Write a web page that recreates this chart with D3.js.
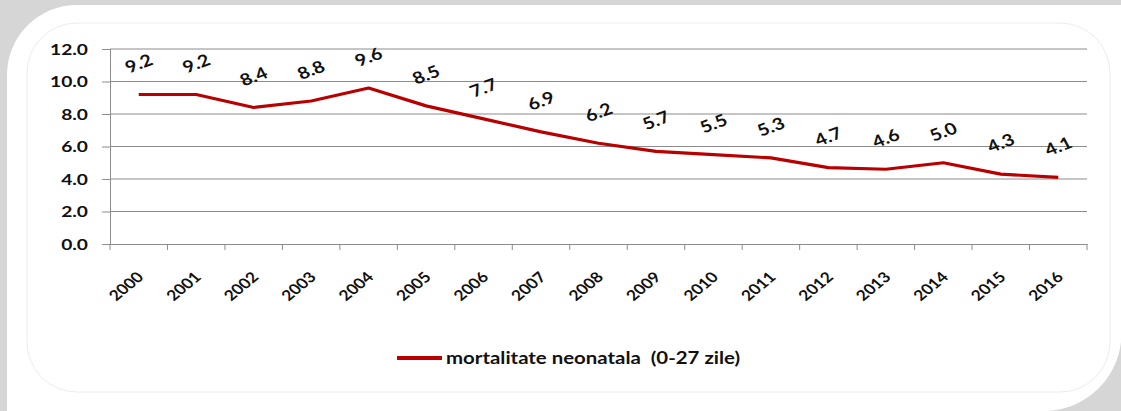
<!DOCTYPE html>
<html>
<head>
<meta charset="utf-8">
<script src="https://cdnjs.cloudflare.com/ajax/libs/d3/7.8.5/d3.min.js"></script>
<style>
  body { margin: 0; background: #fff; }
  text { font-family: Lato, "Open Sans", sans-serif; font-weight: bold; fill: #111; }
</style>
</head>
<body>
<svg id="chart" width="1121" height="411"></svg>
<script>
// data
const years = ["2000", "2001", "2002", "2003", "2004", "2005", "2006", "2007", "2008",
               "2009", "2010", "2011", "2012", "2013", "2014", "2015", "2016"];
const values = [9.2, 9.2, 8.4, 8.8, 9.6, 8.5, 7.7, 6.9, 6.2, 5.7, 5.5, 5.3, 4.7, 4.6, 5.0, 4.3, 4.1];
const yTicks = [0, 2, 4, 6, 8, 10, 12];
const seriesName = "mortalitate neonatala  (0-27 zile)";

const svg = d3.select("#chart"),
    width = +svg.attr("width"),
    height = +svg.attr("height"),
    lineColor = "#b80000",
    gridColor = "#8c8c8c",
    stretch = "scale(1.2,1)"; // the picture is a bit wider than tall

// frame: grey card edge, white panel rounded top-left and bottom-right
svg.append("rect").attr("width", width).attr("height", height).attr("fill", "#d6d6d6");
svg.append("path")
    .attr("d", "M7,75 A70,70 0 0 1 77,5 L" + width + ",5 L" + width + ",342" +
               " A78,78 0 0 1 1048," + height + " L7," + height + " Z")
    .attr("fill", "#fff");
svg.append("rect")
    .attr("x", 27).attr("y", 23)
    .attr("width", 1083).attr("height", 369)
    .attr("rx", 50)
    .attr("fill", "none")
    .attr("stroke", "#ececec");

const x = d3.scaleBand().domain(years).range([110, 1087]);
const y = d3.scaleLinear().domain([0, 12]).range([244, 49]);
const cx = d => x(d) + x.bandwidth() / 2;

// grid
svg.append("g")
  .selectAll("line")
    .data(yTicks.slice(1))
  .enter().append("line")
    .attr("x1", 110).attr("x2", 1087)
    .attr("y1", d => y(d)).attr("y2", d => y(d))
    .attr("stroke", gridColor);

// y axis
const yAxis = svg.append("g")
    .attr("transform", "translate(110,0)")
    .call(d3.axisLeft(y).tickValues(yTicks).tickSize(8).tickFormat(d3.format(".1f")));
yAxis.select(".domain").attr("stroke", gridColor);
yAxis.selectAll(".tick line").attr("stroke", gridColor);
yAxis.selectAll(".tick text")
    .attr("x", null)
    .attr("transform", "translate(-22,0) " + stretch)
    .style("font-size", "16px")
    .style("font-family", "Lato, 'Open Sans', sans-serif");

// x axis
const xAxis = svg.append("g")
    .attr("transform", "translate(0,244)")
    .call(d3.axisBottom(x).tickSize(0).tickPadding(0));
xAxis.select(".domain").attr("stroke", gridColor);
xAxis.selectAll(".tick text")
    .attr("y", null).attr("dy", null)
    .attr("text-anchor", "end")
    .attr("transform", "translate(6,34) " + stretch + " rotate(-45)")
    .style("font-size", "14.5px")
    .style("font-family", "Lato, 'Open Sans', sans-serif");
svg.append("g")
  .selectAll("line")
    .data(years.map(d => x(d)).concat([x.range()[1]]))
  .enter().append("line")
    .attr("x1", d => d).attr("x2", d => d)
    .attr("y1", 244).attr("y2", 250)
    .attr("stroke", gridColor);

// series
const line = d3.line()
    .x((d, i) => cx(years[i]))
    .y(d => y(d));
svg.append("path")
    .datum(values)
    .attr("d", line)
    .attr("fill", "none")
    .attr("stroke", lineColor)
    .attr("stroke-width", 3.2)
    .attr("stroke-linejoin", "round");

// data labels
svg.append("g")
  .selectAll("text")
    .data(values)
  .enter().append("text")
    .attr("text-anchor", "middle")
    .attr("dy", "0.35em")
    .attr("transform", (d, i) => "translate(" + cx(years[i]) + "," + (y(d) - 31) + ") " + stretch + " rotate(-24)")
    .style("font-size", "16.5px")
    .text(d => d.toFixed(1));

// legend
svg.append("line")
    .attr("x1", 397).attr("x2", 442)
    .attr("y1", 358).attr("y2", 358)
    .attr("stroke", lineColor)
    .attr("stroke-width", 4);
svg.append("text")
    .attr("transform", "translate(446,364) " + stretch)
    .style("font-size", "17px")
    .style("white-space", "pre")
    .text(seriesName);
</script>
</body>
</html>
